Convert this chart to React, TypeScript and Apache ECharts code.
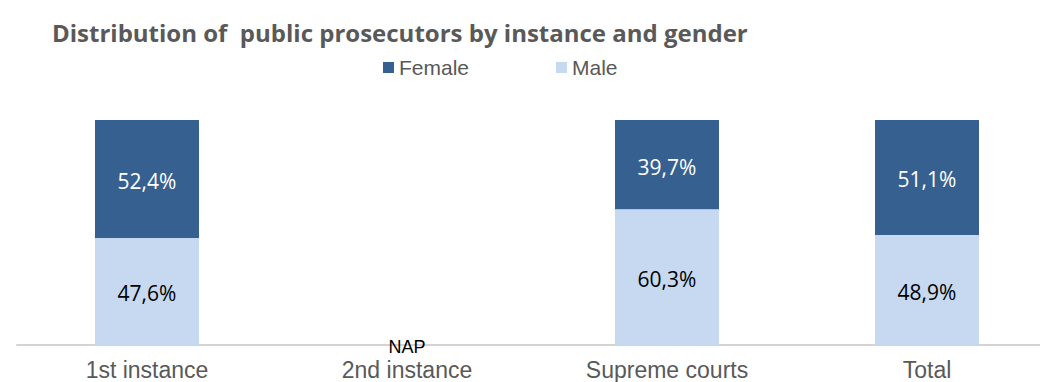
import React, { useEffect, useRef } from "react";
import * as echarts from "echarts";

const categories = ["1st instance", "2nd instance", "Supreme courts", "Total"];
const female = [52.4, null, 39.7, 51.1];
const male = [47.6, null, 60.3, 48.9];
const napValues = [null, 0, null, null];
const titleText = "Distribution of  public prosecutors by instance and gender";

const fmt = (v: number) => v.toFixed(1).replace(".", ",") + "%";

export default function App() {
  const ref = useRef<HTMLDivElement>(null);
  useEffect(() => {
    document.body.style.margin = "0";
    document.body.style.overflow = "hidden";
    const chart = echarts.init(ref.current!, undefined, { renderer: "svg" });
    chart.setOption({
      animation: false,
      backgroundColor: "#ffffff",
      title: {
        text: titleText,
        left: 47,
        top: 15,
        textStyle: {
          fontFamily: "Open Sans",
          fontWeight: "bold",
          fontSize: 24,
          color: "#595959",
        },
      },
      legend: {
        data: ["Female", "Male"],
        left: 378,
        top: 52,
        itemWidth: 11,
        itemHeight: 11,
        itemGap: 87,
        icon: "rect",
        textStyle: { fontFamily: "Liberation Sans", fontSize: 21, color: "#595959" },
      },
      grid: {
        left: 17,
        top: 120,
        width: 1040,
        height: 225,
        outerBoundsMode: "none",
        containLabel: false,
      },
      xAxis: {
        type: "category",
        data: categories,
        axisTick: { show: false },
        axisLine: { lineStyle: { color: "#D4D4D4", width: 2 } },
        axisLabel: {
          fontFamily: "Liberation Sans",
          fontSize: 23,
          color: "#595959",
          margin: 13,
        },
      },
      yAxis: { type: "value", min: 0, max: 100, show: false, splitLine: { show: false } },
      series: [
        {
          name: "Male",
          type: "bar",
          stack: "g",
          data: male,
          barWidth: 104,
          itemStyle: { color: "#C6D9F0" },
          label: {
            show: true,
            position: "inside",
            offset: [0, 2],
            formatter: (p: any) => fmt(p.value),
            fontFamily: "Open Sans",
            fontSize: 21,
            color: "#000000",
          },
        },
        {
          name: "Female",
          type: "bar",
          stack: "g",
          data: female,
          barWidth: 104,
          itemStyle: { color: "#36608F" },
          label: {
            show: true,
            position: "inside",
            offset: [0, 2],
            formatter: (p: any) => fmt(p.value),
            fontFamily: "Open Sans",
            fontSize: 21,
            color: "#ffffff",
          },
        },
        {
          name: "NAP",
          type: "bar",
          data: napValues,
          barWidth: 104,
          barGap: "-100%",
          itemStyle: { color: "transparent" },
          label: {
            show: true,
            position: "inside",
            offset: [0, 2],
            formatter: () => "NAP",
            fontFamily: "Liberation Sans",
            fontSize: 18,
            color: "#000000",
          },
        },
      ],
    });
    return () => chart.dispose();
  }, []);
  return (
    <div
      ref={ref}
      style={{ position: "fixed", left: 0, top: 0, width: 1040, height: 382 }}
    />
  );
}
